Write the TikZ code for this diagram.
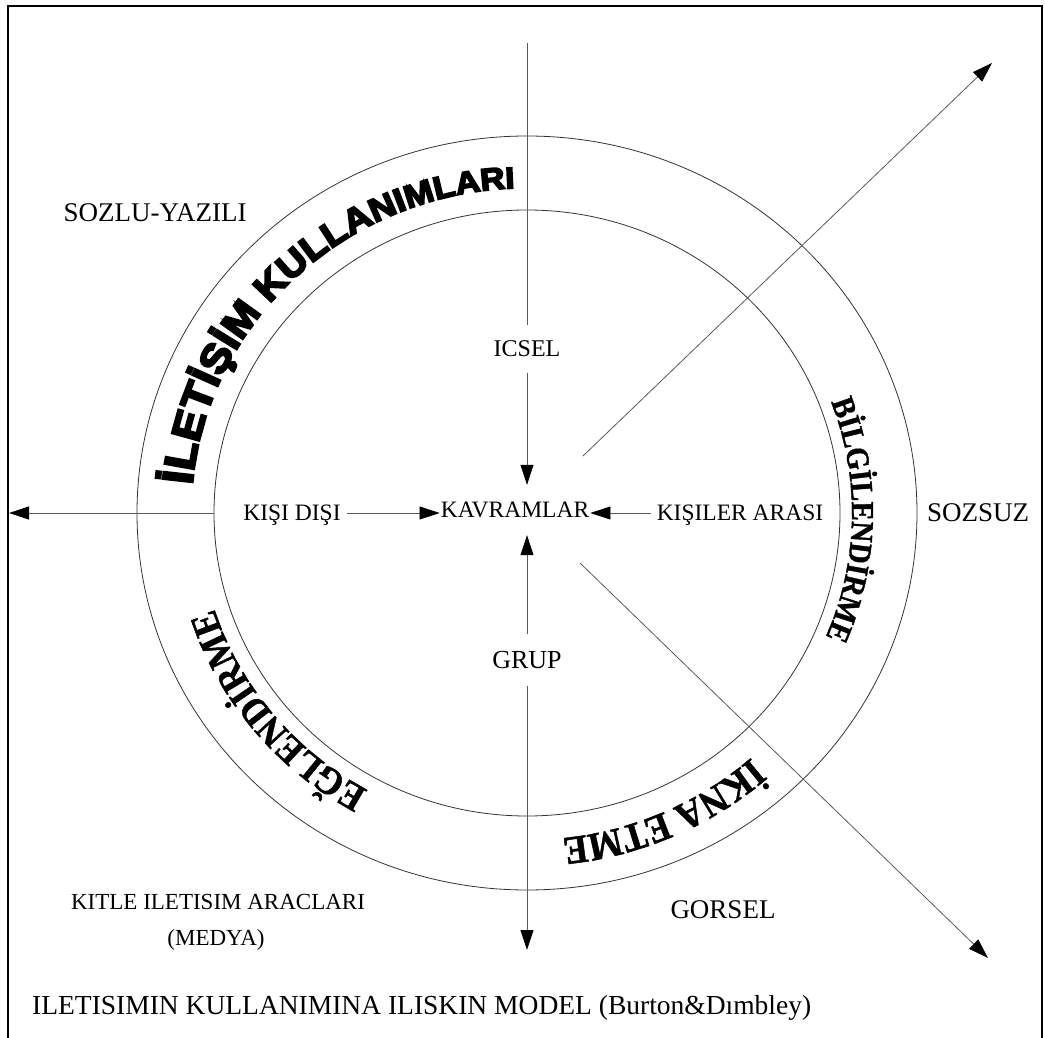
\documentclass[tikz,border=0pt]{standalone}
\usepackage{fontspec}
\setmainfont{Liberation Serif}
\newfontfamily\heavyfont[FakeBold=5.5, FakeStretch=1.1]{Liberation Sans Bold}
\newfontfamily\arcserif[FakeBold=1.2, FakeStretch=0.9]{Liberation Serif Bold}
\usetikzlibrary{arrows.meta,decorations.text}

% font helpers
\newcommand\hf[1]{\heavyfont\fontsize{#1}{#1}\selectfont}
\newcommand\cbf[1]{\arcserif\fontsize{#1}{#1}\selectfont}
\newcommand\fs[1]{\fontsize{#1}{#1}\selectfont}

\tikzset{
  lbl/.style={font=\fs{24}, text depth=0pt, inner sep=6pt},
  axisline/.style={draw=black!65, line width=0.8pt},
  headed/.style={-{Triangle[length=20pt,width=13pt,color=black]}},
  ring/.style={draw=black!80, line width=0.8pt},
  frame/.style={draw=black, line width=2pt},
  arctext/.style={decorate, decoration={text along path, text align=center, text={#1}}}
}

\begin{document}
\begin{tikzpicture}[x=1pt, y=-1pt]
  \useasboundingbox (0,0) rectangle (1045,1038);

  % outer frame (open at the bottom edge)
  \draw[frame] (8,1048) -- (8,6) -- (1042,6) -- (1042,1048);

  % rings and the curved headings (each centred on its arc)
  \begin{scope}[shift={(527pt,-513pt)}, x=1pt, y=1pt]
    \draw[ring] (0,0) ellipse [x radius=390, y radius=377];
    \draw[ring] (0,0) ellipse [x radius=313, y radius=303];

    \path[arctext={|\hf{43}|İL|\hf{41}|ET|\hf{40}|İŞ|\hf{39}|İM|\hf{37}| K|\hf{36}|UL|\hf{35}|LA|\hf{33}|NI|\hf{32}|ML|\hf{31}|AR|\hf{30}|I}]
      (204:336 and 325) arc[start angle=204, end angle=64, x radius=336, y radius=325];

    \path[arctext={|\cbf{32}|BİLGİLENDİRME}]
      (39:325 and 314) arc[start angle=39, end angle=-41.5, x radius=325, y radius=314];

    \path[arctext={|\cbf{40}|İKNA ETME}]
      (-26:338 and 327) arc[start angle=-26, end angle=-106, x radius=338, y radius=327];

    \path[arctext={|\cbf{39}|EĞLENDİRME}]
      (259:328 and 317) arc[start angle=259, end angle=179, x radius=328, y radius=317];
  \end{scope}

  % labels
  \node[lbl, font=\fs{27}] (sozlu) at (155,213) {SOZLU-YAZILI};
  \node[lbl, minimum height=48pt] (icsel) at (527,349) {ICSEL};
  \node[lbl, font=\fs{23.5}, inner xsep=1pt, minimum height=50pt] (kav) at (515,510) {KAVRAMLAR};
  \node[lbl, font=\fs{23.5}] (kd) at (292,513) {KIŞI DIŞI};
  \node[lbl, font=\fs{23.5}] (ka) at (740,513) {KIŞILER ARASI};
  \node[lbl, font=\fs{27}] (sozsuz) at (978,513) {SOZSUZ};
  \node[lbl, font=\fs{26}, minimum height=52pt] (grup) at (527,660) {GRUP};
  \node[lbl, font=\fs{27}] (gorsel) at (723,910) {GORSEL};
  \node[lbl, font=\fs{23}] (kitle) at (218,902) {KITLE ILETISIM ARACLARI};
  \node[lbl, font=\fs{23}] (medya) at (216,938) {(MEDYA)};
  \node[lbl, font=\fs{27.5}, anchor=west] (caption) at (26,1005)
    {ILETISIMIN KULLANIMINA ILISKIN MODEL (Burton\&Dımbley)};

  % free ends of the connectors
  \coordinate (vtop) at (527,43);
  \coordinate (vbot) at (527,950);
  \coordinate (lin) at (214,513);
  \coordinate (ltip) at (9,513);
  \coordinate (ne0) at (583,456);
  \coordinate (ne1) at (992,63);
  \coordinate (se0) at (580,563);
  \coordinate (se1) at (988,958);

  % vertical axis
  \draw[axisline] (vtop) -- (icsel);
  \draw[axisline, headed] (icsel) -- (icsel |- kav.north);
  \draw[axisline, headed] (grup) -- (grup |- kav.south);
  \draw[axisline, headed] (grup) -- (vbot);

  % horizontal axis
  \draw[axisline, headed] (lin) -- (ltip);
  \draw[axisline, headed] (kd.east) -- (kd.east -| kav.west);
  \draw[axisline, headed] (ka.west) -- (ka.west -| kav.east);

  % diagonals
  \draw[axisline, headed] (ne0) -- (ne1);
  \draw[axisline, headed] (se0) -- (se1);
\end{tikzpicture}
\end{document}
